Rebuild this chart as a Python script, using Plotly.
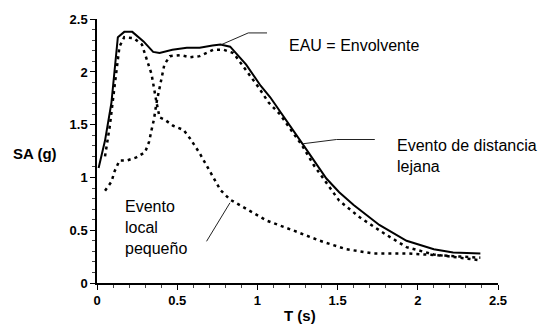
import plotly.graph_objects as go

# Envolvente (EAU)
t_env = [0.01, 0.05, 0.09, 0.13, 0.17, 0.22, 0.29, 0.35, 0.39, 0.47, 0.56, 0.64, 0.72, 0.77,
         0.83, 0.93, 1.02, 1.08, 1.29, 1.38, 1.43, 1.51, 1.60, 1.76, 1.93, 2.10, 2.22, 2.39]
sa_env = [1.09, 1.35, 1.71, 2.33, 2.38, 2.38, 2.29, 2.19, 2.18, 2.21, 2.23, 2.23, 2.25, 2.26,
          2.24, 2.07, 1.87, 1.76, 1.30, 1.10, 0.99, 0.86, 0.74, 0.55, 0.40, 0.32, 0.29, 0.28]

# Evento de distancia lejana
t_far = [0.05, 0.09, 0.11, 0.14, 0.185, 0.245, 0.30, 0.325, 0.34, 0.355, 0.37, 0.40, 0.42,
         0.455, 0.52, 0.58, 0.64, 0.725, 0.79, 0.85, 0.93, 1.00, 1.07, 1.14, 1.28, 1.35,
         1.51, 1.64, 1.80, 1.93, 2.10, 2.26, 2.39]
sa_far = [0.875, 0.96, 1.06, 1.16, 1.16, 1.19, 1.24, 1.34, 1.45, 1.55, 1.70, 1.92, 2.07,
          2.15, 2.16, 2.14, 2.15, 2.21, 2.21, 2.18, 2.02, 1.87, 1.71, 1.60, 1.30, 1.12,
          0.78, 0.62, 0.46, 0.34, 0.27, 0.24, 0.215]

# Evento local pequeño
t_loc = [0.05, 0.08, 0.11, 0.14, 0.17, 0.23, 0.28, 0.31, 0.34, 0.37, 0.39, 0.42, 0.475,
         0.54, 0.58, 0.64, 0.69, 0.77, 0.83, 0.93, 1.06, 1.22, 1.39, 1.555, 1.72, 1.93,
         2.14, 2.39]
sa_loc = [1.20, 1.49, 1.87, 2.24, 2.33, 2.32, 2.26, 2.13, 1.98, 1.72, 1.57, 1.55, 1.49,
          1.45, 1.37, 1.23, 1.09, 0.88, 0.79, 0.70, 0.59, 0.50, 0.40, 0.32, 0.28, 0.28,
          0.26, 0.24]

tick_vals = [0, 0.5, 1, 1.5, 2, 2.5]
tick_text = ["0", "0.5", "1", "1.5", "2", "2.5"]

FONT = "Liberation Sans, Arial, sans-serif"
dots = "3px,4px"

fig = go.Figure()
fig.add_trace(go.Scatter(x=t_env, y=sa_env, mode="lines",
                         line=dict(color="black", width=2)))
fig.add_trace(go.Scatter(x=t_far, y=sa_far, mode="lines",
                         line=dict(color="black", width=2.5, dash=dots)))
fig.add_trace(go.Scatter(x=t_loc, y=sa_loc, mode="lines",
                         line=dict(color="black", width=2.5, dash=dots)))

# leader lines for the labels
leaders = [
    ([0.777, 0.943, 1.06], [2.26, 2.37, 2.37]),
    ([1.285, 1.493, 1.732], [1.32, 1.36, 1.36]),
    ([0.829, 0.683], [0.76, 0.395]),
]
for lx, ly in leaders:
    fig.add_trace(go.Scatter(x=lx, y=ly, mode="lines",
                             line=dict(color="#222", width=1)))

txt = dict(family=FONT, size=16, color="black")
fig.add_annotation(x=1.183, y=2.252, text="EAU = Envolvente", showarrow=False,
                   xanchor="left", yanchor="middle", font=txt)
fig.add_annotation(x=1.857, y=1.20, text="Evento de distancia<br>lejana", showarrow=False,
                   xanchor="left", yanchor="middle", align="left", font=txt)
fig.add_annotation(x=0.164, y=0.53, text="Evento<br>local<br>pequeño", showarrow=False,
                   xanchor="left", yanchor="middle", align="left", font=txt)

bold = dict(family=FONT, size=15, color="black", weight="bold")
fig.add_annotation(x=-0.155, xref="paper", y=1.224, text="SA (g)", showarrow=False,
                   xanchor="center", yanchor="middle", font=bold)
fig.add_annotation(x=1.265, y=0, yref="paper", yshift=-32, text="T (s)", showarrow=False,
                   xanchor="center", yanchor="middle", font=bold)

axis_common = dict(
    tickvals=tick_vals, ticktext=tick_text,
    showgrid=False, zeroline=False, showline=True, linecolor="black", linewidth=1.5,
    ticks="outside", ticklen=5, tickwidth=1, tickcolor="black",
    tickfont=dict(family=FONT, size=13, color="black", weight="bold"),
    minor=dict(dtick=0.1, ticks="outside", ticklen=3, tickcolor="#444", tickwidth=1),
)

fig.update_layout(
    width=538, height=328,
    margin=dict(l=97, r=40, t=15, b=45),
    paper_bgcolor="white", plot_bgcolor="white",
    showlegend=False,
    xaxis=dict(axis_common, range=[0, 2.5]),
    yaxis=dict(axis_common, range=[0, 2.502]),
)

# drop the default 8px page margin so the figure sits at the window corner
fig.write_html("out.html", config={"displayModeBar": False},
               post_script="document.body.style.margin='0';")
